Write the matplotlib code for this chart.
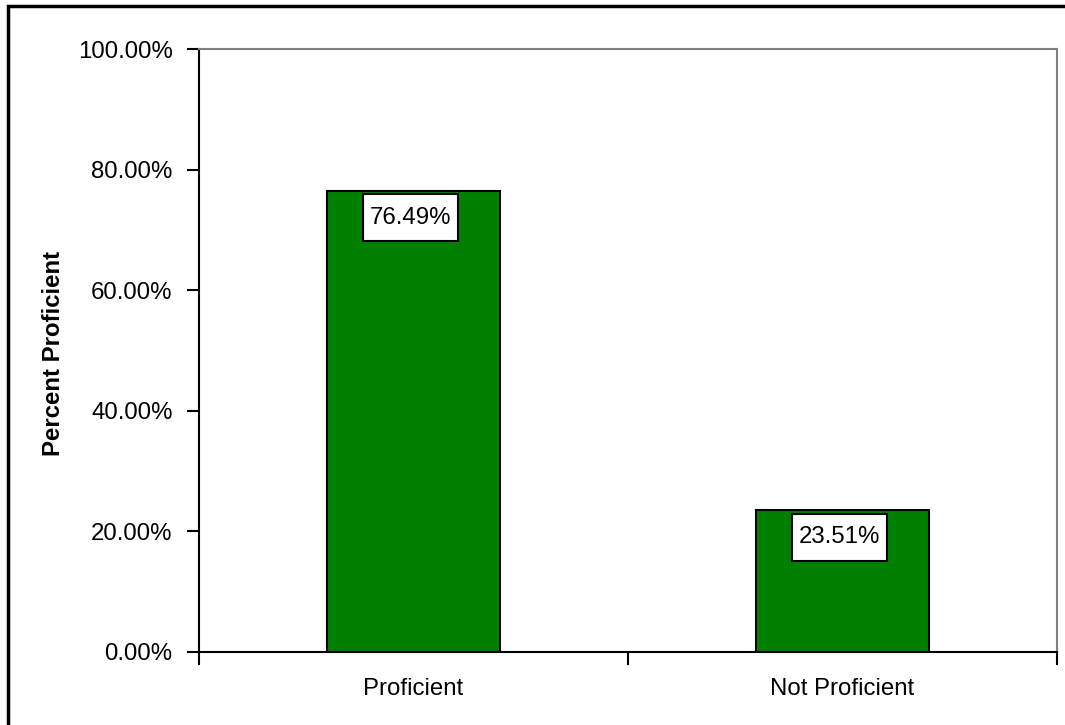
import matplotlib.pyplot as plt
from matplotlib.patches import Rectangle
from matplotlib.path import Path
from matplotlib.ticker import FuncFormatter

plt.rcParams['font.family'] = ['Liberation Sans', 'DejaVu Sans']

# ===================================== 数据 ==============================================================
categories = ["Proficient", "Not Proficient"]
percents = [76.49, 23.51]
y_ticks = [0, 20, 40, 60, 80, 100]

FS = 17.3
GREEN = "#008000"
GREY = "#808080"


def label_box(x0, y0, width, height, mutation_size):
    # 横向留白小、纵向留白大的方框
    px = 0.28 * mutation_size
    py = 0.52 * mutation_size
    x1, y1 = x0 - px, y0 - py
    x2, y2 = x0 + width + px, y0 + height + py
    return Path([(x1, y1), (x2, y1), (x2, y2), (x1, y2), (x1, y1)], closed=True)


def draw():
    fig = plt.figure(figsize=(10.65, 7.25), dpi=100)
    ax = fig.add_axes([199 / 1065, 73 / 725, 858 / 1065, 603 / 725])

    x = list(range(len(categories)))
    bars = ax.bar(x, percents, width=0.405, color=GREEN, edgecolor="black", linewidth=1.5, zorder=2)

    # 数值标签（白底黑框，贴在柱顶内侧）
    for rect, v in zip(bars, percents):
        ax.annotate(f"{v:.2f}%", xy=(rect.get_x() + rect.get_width() / 2, v),
                    xytext=(-3, -16), textcoords="offset pixels",
                    ha="center", va="top", fontsize=FS, zorder=3,
                    bbox=dict(boxstyle=label_box, facecolor="white",
                              edgecolor="black", linewidth=1.5))

    ax.set_xlim(-0.5, len(categories) - 0.5)
    ax.set_ylim(0, 100)
    ax.set_yticks(y_ticks)
    ax.yaxis.set_major_formatter(FuncFormatter(lambda v, p: f"{v:.2f}%"))
    ax.tick_params(axis="y", direction="out", length=9, width=1.5, pad=10, labelsize=FS)

    ax.set_xticks(x)
    ax.set_xticklabels(categories)
    ax.set_xticks([i - 0.5 for i in range(len(categories) + 1)], minor=True)
    ax.tick_params(axis="x", which="major", length=0, pad=19, labelsize=FS)
    ax.tick_params(axis="x", which="minor", direction="out", length=9, width=1.5)

    ax.set_ylabel("Percent Proficient", fontsize=FS, fontweight="bold", va="center")
    ax.yaxis.set_label_coords(-0.1690, 0.495)

    for side in ("left", "bottom"):
        ax.spines[side].set_color("black")
        ax.spines[side].set_linewidth(1.5)
    for side in ("top", "right"):
        ax.spines[side].set_color(GREY)
        ax.spines[side].set_linewidth(1.5)

    # 外框
    fig.patches.append(Rectangle((8 / 1065, -0.1), 1.2, 0.1 + 719 / 725, transform=fig.transFigure,
                                 fill=False, edgecolor="black", linewidth=2.5))

    fig.savefig("out.png", dpi=100)


if __name__ == '__main__':
    draw()
